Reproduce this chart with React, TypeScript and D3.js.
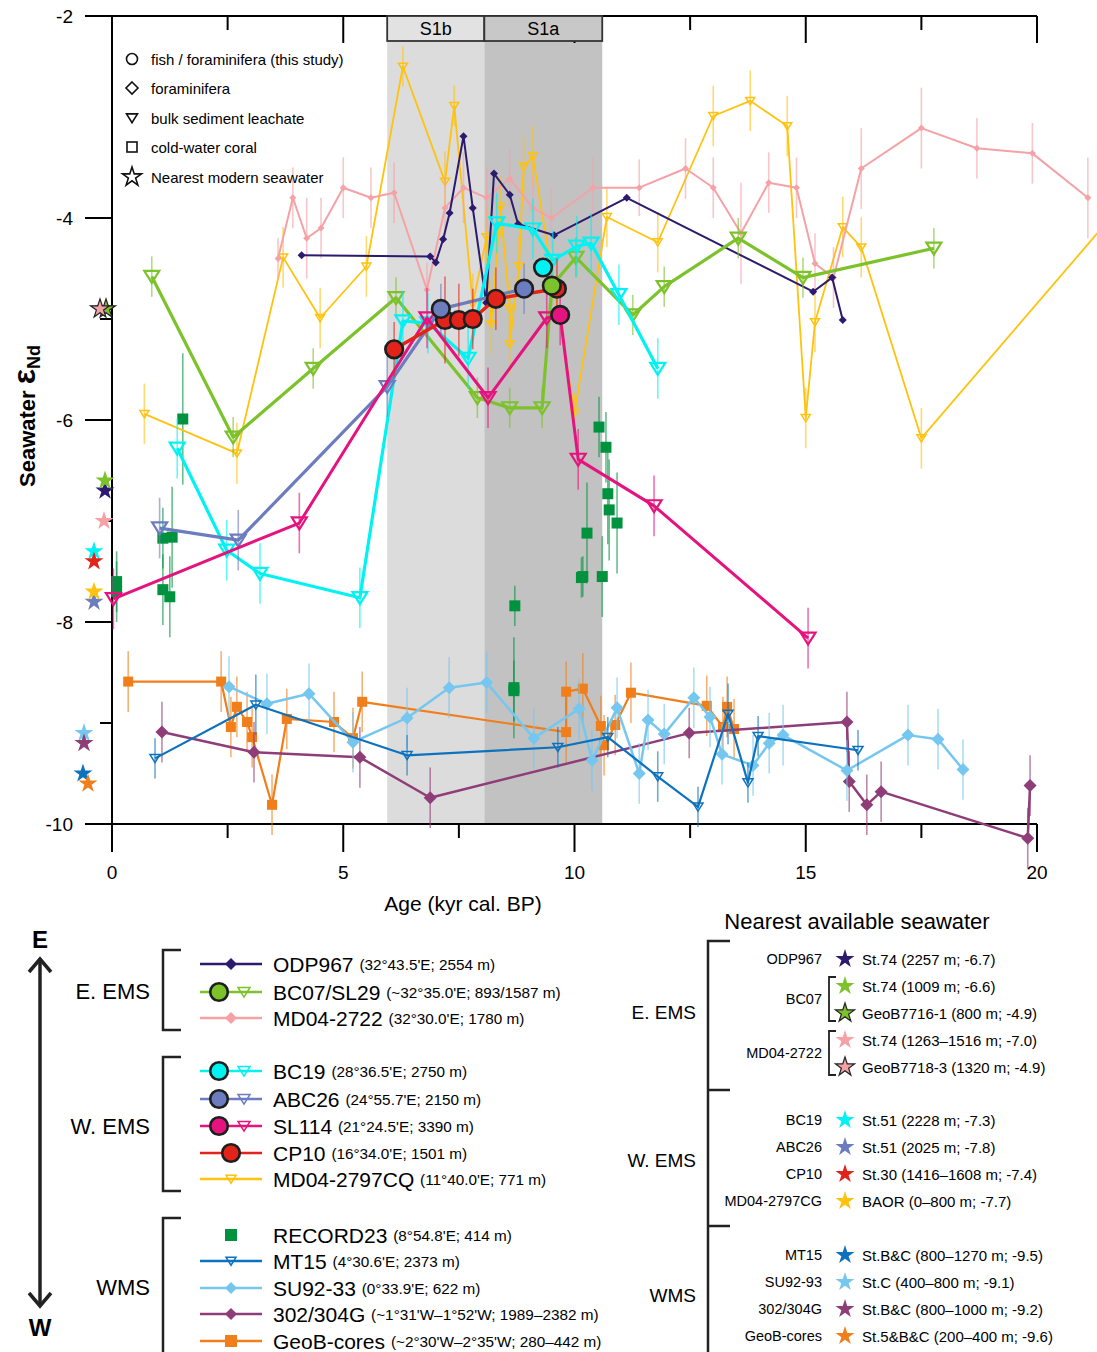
import React from 'react'
import * as d3 from 'd3'

// ---------- data (age in kyr cal. BP, seawater eNd, 2 sigma) ----------
const sapropelNames = ['S1b', 'S1a']
const sapropelStart = [5.95, 8.05]
const sapropelEnd = [8.05, 10.6]

const odpAge = [4.1, 6.88, 7.0, 7.16, 7.3, 7.6, 7.8, 8.09, 8.26, 8.6, 8.78, 9.56, 11.13, 15.16, 15.57, 15.8]
const odpEnd = [-4.37, -4.38, -4.44, -4.21, -3.95, -3.19, -3.9, -4.84, -3.56, -3.77, -4.06, -4.17, -3.8, -4.73, -4.59, -5.01]

const bc07Age = [0.86, 2.62, 4.35, 6.14, 7.9, 8.6, 9.3, 9.51, 10.03, 11.26, 11.94, 13.54, 14.94, 17.77]
const bc07End = [-4.58, -6.17, -5.49, -4.79, -5.78, -5.88, -5.88, -4.67, -4.39, -4.96, -4.68, -4.2, -4.59, -4.3]
const bc07Err = [0.2, 0.2, 0.2, 0.2, 0.2, 0.2, 0.2, 0.2, 0.2, 0.2, 0.2, 0.2, 0.2, 0.2]
const bc07Kind = ['t', 't', 't', 't', 't', 't', 't', 'c', 't', 't', 't', 't', 't', 't']

const md22Age = [3.59, 3.91, 4.21, 4.52, 5.0, 5.6, 6.1, 6.81, 7.2, 7.6, 8.1, 8.6, 9.1, 9.5, 10.4, 11.4, 12.4, 13.0, 13.6, 14.2, 14.8, 15.2, 15.6, 16.2, 17.5, 18.7, 19.9, 21.1]
const md22End = [-4.4, -3.8, -4.2, -4.1, -3.7, -3.8, -3.75, -4.71, -3.9, -3.7, -3.8, -3.61, -3.9, -4.0, -3.7, -3.7, -3.51, -3.7, -4.15, -3.65, -3.7, -4.45, -4.59, -3.51, -3.11, -3.31, -3.36, -3.8]
const md22Err = [0.2, 0.3, 0.4, 0.3, 0.3, 0.3, 0.3, 0.27, 0.3, 0.35, 0.3, 0.3, 0.3, 0.3, 0.3, 0.28, 0.3, 0.3, 0.5, 0.3, 0.3, 0.3, 0.3, 0.4, 0.4, 0.3, 0.3, 0.4]

const bc19Age = [1.41, 2.48, 3.2, 5.36, 6.29, 6.83, 7.7, 8.32, 9.1, 9.53, 10.05, 10.36, 10.96, 11.8]
const bc19End = [-6.28, -7.29, -7.52, -7.76, -5.02, -5.04, -5.39, -4.05, -4.11, -4.42, -4.28, -4.25, -4.76, -5.49]
const bc19Err = [0.3, 0.3, 0.3, 0.3, 0.3, 0.3, 0.3, 0.3, 0.3, 0.3, 0.3, 0.3, 0.3, 0.3]
const bc19FishAge = [9.32]
const bc19FishEnd = [-4.49]

const abcAge = [1.03, 2.73, 5.95, 7.11, 8.91]
const abcEnd = [-7.07, -7.19, -5.67, -4.9, -4.7]
const abcErr = [0.3, 0.3, 0.3, 0.25, 0.25]
const abcKind = ['t', 't', 't', 'c', 'c']

const slAge = [0.03, 4.05, 6.81, 8.13, 9.4, 9.69, 10.08, 11.72, 15.05]
const slEnd = [-7.77, -7.02, -4.99, -5.78, -4.99, -4.96, -6.39, -6.85, -8.16]
const slErr = [0.3, 0.3, 0.3, 0.3, 0.3, 0.3, 0.3, 0.3, 0.3]
const slKind = ['t', 't', 't', 't', 't', 'c', 't', 't', 't']

const cpAge = [6.1, 7.2, 7.5, 7.8, 8.3, 9.62]
const cpEnd = [-5.3, -5.01, -5.01, -5.0, -4.8, -4.7]
const cpErr = [0.27, 0.43, 0.36, 0.3, 0.31, 0.3]

const md97Age = [0.7, 2.7, 3.7, 4.5, 5.5, 6.29, 7.2, 7.4, 7.8, 8.1, 8.2, 8.4, 8.6, 8.6, 8.8, 8.9, 9.1, 10.0, 10.7, 11.8, 13.0, 13.8, 14.6, 15.0, 15.2, 15.8, 16.2, 17.5, 22.0]
const md97End = [-5.94, -6.33, -4.39, -4.99, -4.48, -2.5, -3.64, -2.89, -4.85, -4.19, -5.05, -3.89, -4.9, -5.25, -4.48, -3.49, -3.39, -5.93, -3.99, -4.24, -2.99, -2.84, -3.09, -5.98, -5.03, -4.09, -4.29, -6.18, -3.78]
const md97Err = [0.3, 0.3, 0.3, 0.3, 0.3, 0.2, 0.3, 0.2, 0.3, 0.3, 0.3, 0.3, 0.3, 0.3, 0.3, 0.3, 0.3, 0.2, 0.3, 0.3, 0.3, 0.3, 0.3, 0.3, 0.3, 0.3, 0.3, 0.3, 0.3]

const recAge = [0.1, 0.1, 1.1, 1.25, 1.1, 1.3, 1.53, 8.71, 8.69, 8.69, 10.53, 10.68, 10.72, 10.75, 10.92, 10.27, 10.18, 10.15, 10.6]
const recEnd = [-7.6, -7.7, -7.68, -7.75, -7.17, -7.16, -5.99, -7.84, -8.65, -8.68, -6.07, -6.27, -6.73, -6.89, -7.02, -7.12, -7.55, -7.56, -7.55]
const recErr = [0.3, 0.3, 0.35, 0.4, 0.3, 0.5, 0.65, 0.2, 0.5, 0.3, 0.3, 0.35, 0.5, 0.5, 0.5, 0.5, 0.2, 0.2, 0.4]

const mtAge = [0.93, 3.11, 6.38, 9.64, 10.72, 11.8, 12.67, 13.32, 13.75, 13.97, 16.13]
const mtEnd = [-9.35, -8.82, -9.32, -9.24, -9.14, -9.53, -9.83, -8.91, -9.59, -9.13, -9.27]
const mtErr = [0.2, 0.3, 0.2, 0.2, 0.2, 0.25, 0.2, 0.3, 0.2, 0.2, 0.2]

const suAge = [2.53, 3.35, 4.26, 5.21, 6.38, 7.29, 8.1, 9.12, 10.1, 10.38, 10.92, 11.4, 11.59, 11.94, 12.58, 12.93, 13.19, 13.86, 14.21, 14.51, 15.89, 17.21, 17.86, 18.4]
const suEnd = [-8.64, -8.81, -8.71, -9.19, -8.95, -8.65, -8.6, -9.15, -8.86, -9.37, -8.85, -9.5, -8.97, -9.11, -8.75, -8.94, -9.31, -9.42, -9.2, -9.12, -9.47, -9.12, -9.16, -9.46]
const suErr = [0.3, 0.3, 0.3, 0.3, 0.3, 0.3, 0.3, 0.3, 0.3, 0.3, 0.3, 0.3, 0.3, 0.3, 0.3, 0.3, 0.3, 0.3, 0.3, 0.3, 0.3, 0.3, 0.3, 0.3]

const pgAge = [1.08, 3.07, 5.36, 6.88, 12.48, 15.89, 15.94, 16.32, 16.63, 19.8, 19.85]
const pgEnd = [-9.09, -9.29, -9.34, -9.74, -9.1, -8.99, -9.58, -9.81, -9.68, -10.14, -9.62]
const pgErr = [0.3, 0.3, 0.3, 0.3, 0.25, 0.3, 0.3, 0.3, 0.3, 0.3, 0.3]

const geoAge = [0.35, 2.36, 2.57, 2.7, 2.92, 3.03, 3.46, 3.78, 4.8, 5.21, 5.41, 9.82, 9.82, 10.18, 10.57, 10.64, 10.88, 11.22, 12.86, 13.21, 13.3, 13.45]
const geoEnd = [-8.59, -8.59, -9.04, -8.84, -8.99, -9.14, -9.81, -8.96, -8.99, -9.15, -8.79, -9.09, -8.69, -8.66, -9.03, -9.22, -9.02, -8.7, -8.83, -9.04, -8.84, -9.06]
const geoErr = [0.3, 0.3, 0.3, 0.3, 0.3, 0.3, 0.3, 0.3, 0.3, 0.3, 0.3, 0.3, 0.3, 0.35, 0.3, 0.3, 0.3, 0.3, 0.3, 0.3, 0.3, 0.3]

// nearest modern seawater
const starStation = ['St.74 (2257 m; -6.7)', 'St.74 (1009 m; -6.6)', 'GeoB7716-1 (800 m; -4.9)', 'St.74 (1263\u20131516 m; -7.0)', 'GeoB7718-3 (1320 m; -4.9)', 'St.51 (2228 m; -7.3)', 'St.51 (2025 m; -7.8)', 'St.30 (1416\u20131608 m; -7.4)', 'BAOR (0\u2013800 m; -7.7)', 'St.B&C (800\u20131270 m; -9.5)', 'St.C (400\u2013800 m; -9.1)', 'St.B&C (800\u20131000 m; -9.2)', 'St.5&B&C (200\u2013400 m; -9.6)']
const starEnd = [-6.7, -6.6, -4.9, -7.0, -4.9, -7.3, -7.8, -7.4, -7.7, -9.5, -9.1, -9.2, -9.6]

const xTicks = [0, 5, 10, 15, 20]
const yTicks = [-2, -4, -6, -8, -10]
const yMinor = [-5, -7, -9]

// ---------- layout ----------
const W = 1097
const H = 1352
const x = d3.scaleLinear().domain([0, 20]).range([112, 1037])
const y = d3.scaleLinear().domain([-2, -10]).range([16, 824])
const FONT = 'Arial, "Liberation Sans", sans-serif'

const C = {
  odp: '#2c1a6f', bc07: '#7cc22b', md22: '#f4a2a6', bc19: '#00f2f2', abc: '#6b7cbf',
  sl: '#e5137e', cp: '#e2231a', md97: '#ffc20e', rec: '#00923f', mt: '#0d72bd',
  su: '#75c7f0', pg: '#8f3d78', geo: '#f07e1a',
}
const starColor = [C.odp, C.bc07, C.bc07, C.md22, C.md22, C.bc19, C.abc, C.cp, C.md97, C.mt, C.su, C.pg, C.geo]
const starOutlined = [false, false, true, false, true, false, false, false, false, false, false, false, false]
const starPx = [105, 105, 106, 104, 100, 94, 94, 94, 94, 83, 84, 84, 88]

const diamond = (cx: number, cy: number, r: number) => `M${cx},${cy - r}L${cx + r},${cy}L${cx},${cy + r}L${cx - r},${cy}Z`
const tri = (cx: number, cy: number, r: number) => `M${cx - r},${cy - r * 0.75}L${cx + r},${cy - r * 0.75}L${cx},${cy + r * 0.85}Z`
const star = (r: number) => d3.symbol(d3.symbolStar, r * r / 0.8908)()

type S = { id: string; age: number[]; val: number[]; err?: number[]; kind?: string[]; color: string; lw: number; marker: string; ms: number }

const series: S[] = [
  { id: 'rec', age: recAge, val: recEnd, err: recErr, color: C.rec, lw: 0, marker: 'square', ms: 5.5 },
  { id: 'geo', age: geoAge, val: geoEnd, err: geoErr, color: C.geo, lw: 2.2, marker: 'square', ms: 5 },
  { id: 'pg', age: pgAge, val: pgEnd, err: pgErr, color: C.pg, lw: 2.5, marker: 'diamond', ms: 6.5 },
  { id: 'su', age: suAge, val: suEnd, err: suErr, color: C.su, lw: 2.5, marker: 'diamond', ms: 6.5 },
  { id: 'mt', age: mtAge, val: mtEnd, err: mtErr, color: C.mt, lw: 2.2, marker: 'tri', ms: 5 },
  { id: 'md97', age: md97Age, val: md97End, err: md97Err, color: C.md97, lw: 1.8, marker: 'tri', ms: 4.5 },
  { id: 'md22', age: md22Age, val: md22End, err: md22Err, color: C.md22, lw: 2, marker: 'diamond', ms: 3.5 },
  { id: 'odp', age: odpAge, val: odpEnd, color: C.odp, lw: 2, marker: 'diamond', ms: 4 },
  { id: 'bc07', age: bc07Age, val: bc07End, err: bc07Err, kind: bc07Kind, color: C.bc07, lw: 3.2, marker: 'tri', ms: 7.5 },
  { id: 'bc19', age: bc19Age, val: bc19End, err: bc19Err, color: C.bc19, lw: 3.2, marker: 'tri', ms: 7.5 },
  { id: 'abc', age: abcAge, val: abcEnd, err: abcErr, kind: abcKind, color: C.abc, lw: 3.2, marker: 'tri', ms: 7.5 },
  { id: 'sl', age: slAge, val: slEnd, err: slErr, kind: slKind, color: C.sl, lw: 3, marker: 'tri', ms: 7.5 },
  { id: 'cp', age: cpAge, val: cpEnd, err: cpErr, color: C.cp, lw: 3.5, marker: 'none', ms: 0 },
]

const pick = (a: number[], k: string[]) => a.filter((_, i) => k[i] === 'c')
const circles = [
  { age: cpAge, val: cpEnd, color: C.cp },
  { age: pick(slAge, slKind), val: pick(slEnd, slKind), color: C.sl },
  { age: pick(abcAge, abcKind), val: pick(abcEnd, abcKind), color: C.abc },
  { age: bc19FishAge, val: bc19FishEnd, color: C.bc19 },
  { age: pick(bc07Age, bc07Kind), val: pick(bc07End, bc07Kind), color: C.bc07 },
]

const marker = (m: string, cx: number, cy: number, r: number, color: string, key: string) => {
  if (m === 'square') return <rect key={key} x={cx - r} y={cy - r} width={2 * r} height={2 * r} fill={color} />
  if (m === 'diamond') return <path key={key} d={diamond(cx, cy, r)} fill={color} />
  if (m === 'tri') return <path key={key} d={tri(cx, cy, r)} fill="none" stroke={color} strokeWidth={r > 6 ? 2.2 : 1.5} />
  return null
}

const SeriesLayer = ({ s }: { s: S }) => {
  const line = d3.line<number>().x((_, i) => x(s.age[i])).y((_, i) => y(s.val[i]))
  return (
    <g>
      {s.err && s.age.map((a, i) => (
        <line key={'e' + i} x1={x(a)} x2={x(a)} y1={y(s.val[i] - s.err![i])} y2={y(s.val[i] + s.err![i])}
          stroke={s.color} strokeOpacity={0.6} strokeWidth={1.6} />
      ))}
      {s.lw > 0 && <path d={line(s.val) || ''} fill="none" stroke={s.color} strokeWidth={s.lw} strokeLinejoin="round" />}
      {s.age.map((a, i) => (!s.kind || s.kind[i] === 't') ? marker(s.marker, x(a), y(s.val[i]), s.ms, s.color, 'm' + i) : null)}
    </g>
  )
}

const leftLegend = [
  { group: 'E. EMS', rows: [
    { name: 'ODP967', det: '(32°43.5\'E; 2554 m)', color: C.odp, m: 'diamond', circ: false },
    { name: 'BC07/SL29', det: '(~32°35.0\'E; 893/1587 m)', color: C.bc07, m: 'tri', circ: true },
    { name: 'MD04-2722', det: '(32°30.0\'E; 1780 m)', color: C.md22, m: 'diamond', circ: false },
  ] },
  { group: 'W. EMS', rows: [
    { name: 'BC19', det: '(28°36.5\'E; 2750 m)', color: C.bc19, m: 'tri', circ: true },
    { name: 'ABC26', det: '(24°55.7\'E; 2150 m)', color: C.abc, m: 'tri', circ: true },
    { name: 'SL114', det: '(21°24.5\'E; 3390 m)', color: C.sl, m: 'tri', circ: true },
    { name: 'CP10', det: '(16°34.0\'E; 1501 m)', color: C.cp, m: 'circle', circ: false },
    { name: 'MD04-2797CQ', det: '(11°40.0\'E; 771 m)', color: C.md97, m: 'tri', circ: false },
  ] },
  { group: 'WMS', rows: [
    { name: 'RECORD23', det: '(8°54.8\'E; 414 m)', color: C.rec, m: 'square', circ: false },
    { name: 'MT15', det: '(4°30.6\'E; 2373 m)', color: C.mt, m: 'tri', circ: false },
    { name: 'SU92-33', det: '(0°33.9\'E; 622 m)', color: C.su, m: 'diamond', circ: false },
    { name: '302/304G', det: '(~1°31\'W\u20131°52\'W; 1989\u20132382 m)', color: C.pg, m: 'diamond', circ: false },
    { name: 'GeoB-cores', det: '(~2°30\'W\u20132°35\'W; 280\u2013442 m)', color: C.geo, m: 'square', circ: false },
  ] },
]
const leftRowY = [[964, 992, 1018], [1071, 1099, 1126, 1153, 1179], [1235, 1261, 1288, 1314, 1341]]
const leftGroupY = [991, 1126, 1287]
const leftBracket = [[950, 1030], [1057, 1191], [1218, 1360]]

const rightRowY = [959, 986, 1013, 1040, 1067, 1120, 1147, 1174, 1201, 1255, 1282, 1309, 1336]
const rightCoreY: [string, number][] = [['ODP967', 959], ['BC07', 999], ['MD04-2722', 1053], ['BC19', 1120], ['ABC26', 1147], ['CP10', 1174], ['MD04-2797CG', 1201], ['MT15', 1255], ['SU92-93', 1282], ['302/304G', 1309], ['GeoB-cores', 1336]]

export default function App() {
  return (
    <div style={{ position: 'absolute', left: 0, top: 0 }}>
      <svg width={W} height={H} style={{ display: 'block', fontFamily: FONT }}>
        <rect width={W} height={H} fill="#fff" />
        {/* sapropel bands */}
        {sapropelNames.map((n, i) => (
          <rect key={n} x={x(sapropelStart[i])} width={x(sapropelEnd[i]) - x(sapropelStart[i])} y={y(-2)} height={y(-10) - y(-2)}
            fill={i === 0 ? '#dcdcdc' : '#c2c2c2'} />
        ))}

        {/* axes */}
        <line x1={85} x2={x(20)} y1={y(-2)} y2={y(-2)} stroke="#000" strokeWidth={2} />
        <line x1={85} x2={x(20)} y1={y(-10)} y2={y(-10)} stroke="#000" strokeWidth={2} />
        <line x1={x(0)} x2={x(0)} y1={y(-2)} y2={y(-10)} stroke="#000" strokeWidth={2} />
        {yTicks.map(v => (
          <line key={'yt' + v} x1={85} x2={x(0)} y1={y(v)} y2={y(v)} stroke="#000" strokeWidth={2} />
        ))}
        {yMinor.map(v => (
          <line key={'ym' + v} x1={100} x2={x(0)} y1={y(v)} y2={y(v)} stroke="#000" strokeWidth={2} />
        ))}
        {d3.range(0, 20.1, 2.5).map(v => (
          <g key={'xt' + v}>
            <line x1={x(v)} x2={x(v)} y1={y(-10)} y2={y(-10) + (v % 5 === 0 ? 28 : 14)} stroke="#000" strokeWidth={2} />
            {v > 0 && <line x1={x(v)} x2={x(v)} y1={y(-2)} y2={y(-2) + (v % 5 === 0 ? 27 : 14)} stroke="#000" strokeWidth={2} />}
          </g>
        ))}
        {yTicks.map(v => (
          <text key={'yl' + v} x={73} y={y(v)} textAnchor="end" dominantBaseline="central" fontSize={19}>{v}</text>
        ))}
        {xTicks.map(v => (
          <text key={'xl' + v} x={x(v)} y={872} textAnchor="middle" dominantBaseline="central" fontSize={19}>{v}</text>
        ))}
        <text x={463} y={903} textAnchor="middle" dominantBaseline="central" fontSize={21}>Age (kyr cal. BP)</text>
        <text transform="translate(35,416) rotate(-90)" textAnchor="middle" fontSize={22} fontWeight="bold">
          Seawater <tspan fontSize={32}>ε</tspan><tspan fontSize={18} dy={5}>Nd</tspan>
        </text>

        {/* band header boxes */}
        {sapropelNames.map((n, i) => (
          <g key={'h' + n}>
            <rect x={x(sapropelStart[i])} y={y(-2)} width={x(sapropelEnd[i]) - x(sapropelStart[i])} height={25}
              fill={i === 0 ? '#e2e2e2' : '#c8c8c8'} stroke="#333" strokeWidth={1.8} />
            <text x={(x(sapropelStart[i]) + x(sapropelEnd[i])) / 2} y={y(-2) + 13} textAnchor="middle" dominantBaseline="central" fontSize={18}>{n}</text>
          </g>
        ))}

        {/* data */}
        {series.map(s => <SeriesLayer key={s.id} s={s} />)}
        {circles.map((c, k) => c.age.map((a, i) => (
          <circle key={'c' + k + i} cx={x(a)} cy={y(c.val[i])} r={8.8} fill={c.color} stroke="#1e1e1e" strokeWidth={2.6} />
        )))}

        {/* modern seawater stars */}
        {starEnd.map((v, i) => (
          <path key={'s' + i} d={star(10) || ''} transform={`translate(${starPx[i]},${y(v)})`} fill={starColor[i]}
            stroke={starOutlined[i] ? '#222' : 'none'} strokeWidth={1.2} />
        ))}

        {/* symbol legend */}
        <g fill="none" stroke="#111" strokeWidth={1.6}>
          <circle cx={132} cy={59} r={5.5} />
          <path d={diamond(132, 88, 6)} />
          <path d={tri(132, 118, 5.5)} />
          <rect x={127} y={142} width={10} height={10} />
          <path d={star(10) || ''} transform="translate(132,177)" />
        </g>
        {['fish / foraminifera (this study)', 'foraminifera', 'bulk sediment leachate', 'cold-water coral', 'Nearest modern seawater'].map((t, i) => (
          <text key={'lg' + i} x={151} y={[59, 88, 118, 147, 177][i]} dominantBaseline="central" fontSize={15}>{t}</text>
        ))}

        {/* lower-left legend */}
        <line x1={40} x2={40} y1={959} y2={1306} stroke="#222" strokeWidth={3.5} />
        <path d="M29,972L40,959L51,972" fill="none" stroke="#222" strokeWidth={3.5} />
        <path d="M29,1293L40,1306L51,1293" fill="none" stroke="#222" strokeWidth={3.5} />
        <text x={40} y={939} textAnchor="middle" dominantBaseline="central" fontSize={24} fontWeight="bold">E</text>
        <text x={40} y={1327} textAnchor="middle" dominantBaseline="central" fontSize={24} fontWeight="bold">W</text>
        {leftLegend.map((g, gi) => (
          <g key={g.group}>
            <text x={150} y={leftGroupY[gi]} textAnchor="end" dominantBaseline="central" fontSize={22}>{g.group}</text>
            <path d={`M181,${leftBracket[gi][0]}H163V${leftBracket[gi][1]}H181`} fill="none" stroke="#222" strokeWidth={2.5} />
            {g.rows.map((r, ri) => {
              const yy = leftRowY[gi][ri]
              return (
                <g key={r.name}>
                  {r.name !== 'RECORD23' ? <line x1={200} x2={262} y1={yy} y2={yy} stroke={r.color} strokeWidth={2.5} /> : null}
                  {r.circ ? (
                    <g>
                      <circle cx={219} cy={yy} r={8.8} fill={r.color} stroke="#1e1e1e" strokeWidth={2.6} />
                      {marker('tri', 244, yy, 6, r.color, 't')}
                    </g>
                  ) : r.m === 'circle' ? (
                    <circle cx={231} cy={yy} r={8.8} fill={r.color} stroke="#1e1e1e" strokeWidth={2.6} />
                  ) : marker(r.m, 231, yy, r.m === 'square' ? 6 : r.m === 'tri' ? 5 : 6, r.color, 'm')}
                  <text x={273} y={yy} dominantBaseline="central" fontSize={21}>
                    {r.name} <tspan fontSize={15.3}>{r.det}</tspan>
                  </text>
                </g>
              )
            })}
          </g>
        ))}

        {/* right legend */}
        <text x={857} y={921} textAnchor="middle" dominantBaseline="central" fontSize={22}>Nearest available seawater</text>
        <path d="M730,941H708V1360M708,1090H730M708,1226H730" fill="none" stroke="#222" strokeWidth={2.5} />
        {[['E. EMS', 1012], ['W. EMS', 1160], ['WMS', 1295]].map(([t, yy]) => (
          <text key={t as string} x={696} y={yy as number} textAnchor="end" dominantBaseline="central" fontSize={19}>{t}</text>
        ))}
        <path d="M836,977H829V1021H836M836,1031H829V1075H836" fill="none" stroke="#222" strokeWidth={1.8} />
        {rightCoreY.map(([t, yy]) => (
          <text key={'rc' + t} x={822} y={yy} textAnchor="end" dominantBaseline="central" fontSize={14.5}>{t}</text>
        ))}
        {starStation.map((t, i) => (
          <g key={'rs' + i}>
            <path d={star(10) || ''} transform={`translate(845,${rightRowY[i]})`} fill={starColor[i]}
              stroke={starOutlined[i] ? '#222' : 'none'} strokeWidth={1.2} />
            <text x={862} y={rightRowY[i]} dominantBaseline="central" fontSize={15}>{t}</text>
          </g>
        ))}
      </svg>
    </div>
  )
}
